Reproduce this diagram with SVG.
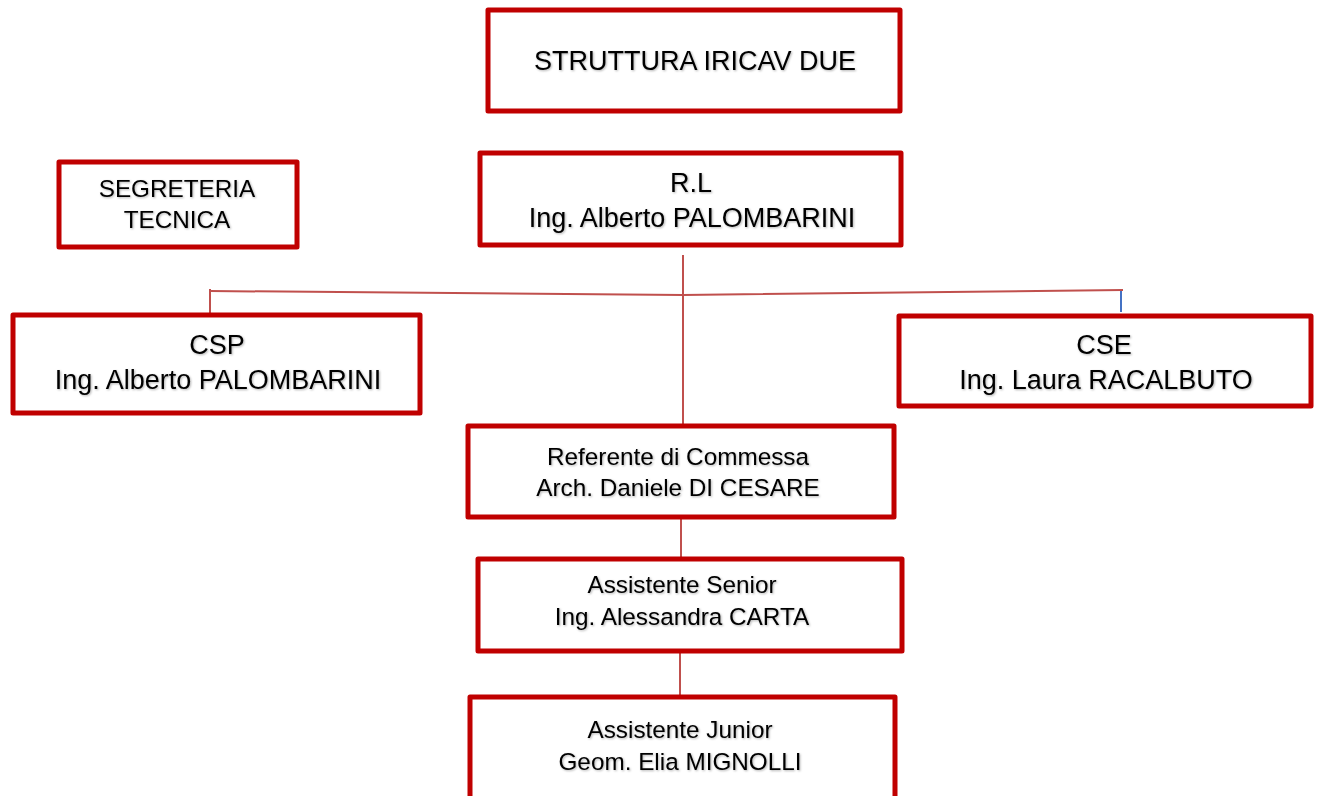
<svg xmlns="http://www.w3.org/2000/svg" width="1320" height="796" viewBox="0 0 1320 796">
<defs>
<filter id="ts" x="-10%" y="-30%" width="120%" height="160%">
<feDropShadow dx="1" dy="1" stdDeviation="0.8" flood-color="#000" flood-opacity="0.3"/>
</filter>
</defs>
<style>
.box{fill:#fff;stroke:#c00000;stroke-width:5;stroke-linejoin:round}
text{font-family:"Liberation Sans",Arial,sans-serif;fill:#000;text-anchor:middle;filter:url(#ts)}
.t26{font-size:27px}
.t24{font-size:24.3px}
.con{stroke:#c0504d;stroke-width:2;fill:none}
</style>
<rect width="1320" height="796" fill="#fff"/>
<g id="connectors">
<line class="con" x1="683" y1="255" x2="683" y2="424"/>
<polyline class="con" points="210,291 683,295 1123,290"/>
<line class="con" x1="210" y1="289" x2="210" y2="313"/>
<line x1="1121" y1="291" x2="1121" y2="312" stroke="#4472c4" stroke-width="2"/>
<line class="con" x1="681" y1="519" x2="681" y2="557"/>
<line class="con" x1="680" y1="653" x2="680" y2="695"/>
</g>
<g id="struttura">
<rect class="box" x="488" y="10" width="412" height="101"/>
<text class="t26" x="695" y="70">STRUTTURA IRICAV DUE</text>
</g>
<g id="segreteria">
<rect class="box" x="59" y="162" width="238" height="85"/>
<text class="t24" x="177" y="197">SEGRETERIA</text>
<text class="t24" x="177" y="228">TECNICA</text>
</g>
<g id="rl">
<rect class="box" x="480" y="153" width="421" height="92"/>
<text class="t26" x="691" y="192">R.L</text>
<text class="t26" x="692" y="227">Ing. Alberto PALOMBARINI</text>
</g>
<g id="csp">
<rect class="box" x="13" y="315" width="407" height="98"/>
<text class="t26" x="217" y="354">CSP</text>
<text class="t26" x="218" y="389">Ing. Alberto PALOMBARINI</text>
</g>
<g id="cse">
<rect class="box" x="899" y="316" width="412" height="90"/>
<text class="t26" x="1104" y="354">CSE</text>
<text class="t26" x="1106" y="389">Ing. Laura RACALBUTO</text>
</g>
<g id="referente">
<rect class="box" x="468" y="426" width="426" height="91"/>
<text class="t24" x="678" y="465">Referente di Commessa</text>
<text class="t24" x="678" y="496">Arch. Daniele DI CESARE</text>
</g>
<g id="senior">
<rect class="box" x="478" y="559" width="424" height="92"/>
<text class="t24" x="682" y="593">Assistente Senior</text>
<text class="t24" x="682" y="625">Ing. Alessandra CARTA</text>
</g>
<g id="junior">
<rect class="box" x="470" y="697" width="425" height="110"/>
<text class="t24" x="680" y="738">Assistente Junior</text>
<text class="t24" x="680" y="770">Geom. Elia MIGNOLLI</text>
</g>
</svg>
